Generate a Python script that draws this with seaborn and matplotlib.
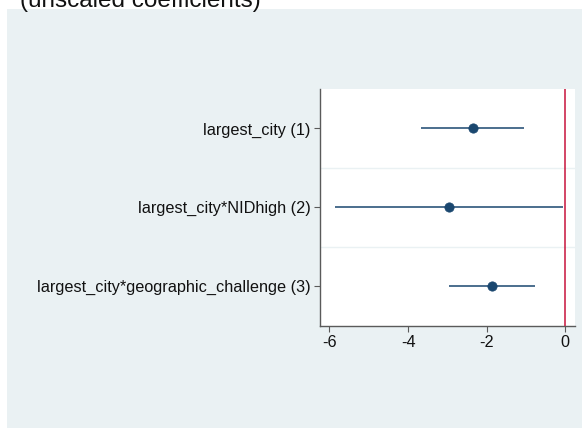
import matplotlib
matplotlib.use("Agg")
import matplotlib.pyplot as plt
from matplotlib.patches import Rectangle
import seaborn as sns
import pandas as pd

# Coefficient estimates with 95% confidence intervals
terms = ["largest_city (1)",
         "largest_city*NIDhigh (2)",
         "largest_city*geographic_challenge (3)"]
coef = [-2.36, -2.96, -1.87]
ci_low = [-3.67, -5.86, -2.97]
ci_high = [-1.04, -0.07, -0.77]
xticks = [-6, -4, -2, 0]
subtitle = "(unscaled coefficients)"

df = pd.DataFrame({"term": terms, "coef": coef, "lo": ci_low, "hi": ci_high})
df["pos"] = range(len(df))

sns.set_style("white")
plt.rcParams["font.family"] = ["Liberation Sans", "DejaVu Sans"]

bg = "#EAF1F3"
navy = "#1A476F"
W, H = 582, 428
fig = plt.figure(figsize=(W / 100, H / 100), dpi=100)
fig.patch.set_facecolor("white")
fig.patches.append(Rectangle((7 / W, 0), 1 - 7 / W, 1 - 9 / H,
                             transform=fig.transFigure, facecolor=bg,
                             edgecolor="none", zorder=-10))
fig.text(20 / W, 1 - 7 / H, subtitle, fontsize=17.5, color="#111111",
         ha="left", va="baseline")

ax = fig.add_axes([320 / W, 1 - 325.6 / H, 255 / W, (325.6 - 89) / H])
ax.set_facecolor("white")

# confidence intervals
ax.hlines(df["pos"], df["lo"], df["hi"], color=navy, linewidth=1.1, zorder=2)
sns.scatterplot(data=df, x="coef", y="pos", ax=ax, color=navy, s=45,
                edgecolor=navy, linewidth=0.5, zorder=3, legend=False)

# reference line at zero
ax.axvline(0, color="#C8143C", linewidth=1.1, zorder=4)

# separators between terms
for yv in [0.5, 1.5]:
    ax.axhline(yv, color=bg, linewidth=1.0, zorder=1)

ax.set_xlim(-6.24, 0.246)
ax.set_ylim(2.5, -0.5)
ax.set_xticks(xticks)
ax.set_xticklabels([str(t) for t in xticks])
ax.set_yticks(df["pos"])
ax.set_yticklabels(df["term"])
ax.set_xlabel("")
ax.set_ylabel("")

for side in ["top", "right"]:
    ax.spines[side].set_visible(False)
for side in ["left", "bottom"]:
    ax.spines[side].set_color("#5A5A5A")
    ax.spines[side].set_linewidth(1.0)
ax.tick_params(axis="both", which="both", length=4, width=0.8, color="#5A5A5A",
               labelsize=11.7, labelcolor="#111111", pad=3,
               left=True, bottom=True)

fig.savefig("out.png", dpi=100)
